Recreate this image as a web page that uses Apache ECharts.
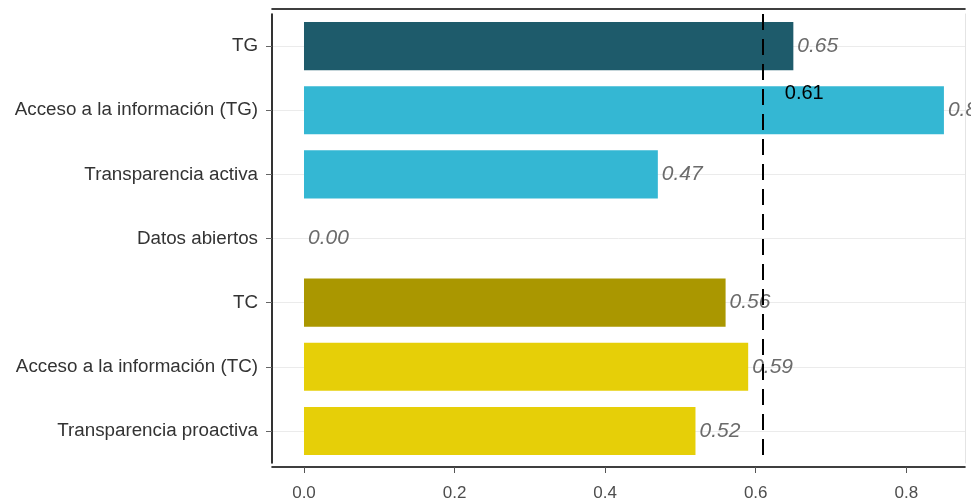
<!DOCTYPE html>
<html>
<head>
<meta charset="utf-8">
<script src="https://cdn.jsdelivr.net/npm/echarts@6/dist/echarts.min.js"></script>
<style>
html,body{margin:0;padding:0;background:#fff;}
#chart{width:971px;height:504px;}
</style>
</head>
<body>
<div id="chart"></div>
<script>
// ---- data ----
var categories = [
  'TG',
  'Acceso a la información (TG)',
  'Transparencia activa',
  'Datos abiertos',
  'TC',
  'Acceso a la información (TC)',
  'Transparencia proactiva'
];
var values = [0.65, 0.85, 0.47, 0.00, 0.56, 0.59, 0.52];
var groups = ['TG-total', 'TG', 'TG', 'TG', 'TC-total', 'TC', 'TC'];
var referenceValue = 0.606;
var xTicks = [0, 0.2, 0.4, 0.6, 0.8];

// ---- styles ----
var palette = {
  'TG-total': '#1e5b6b',
  'TG': '#34b7d3',
  'TC-total': '#aa9700',
  'TC': '#e6cf08'
};
var FONT = '"Liberation Sans", Arial, Helvetica, sans-serif';
var xMin = -0.0425, xMax = 0.878;

var chart = echarts.init(document.getElementById('chart'), null, {renderer: 'canvas'});

var barData = values.map(function (v, i) {
  return { value: v, itemStyle: { color: palette[groups[i]] } };
});

var option = {
  animation: false,
  backgroundColor: '#ffffff',
  grid: { left: 272, right: 6, top: 14, bottom: 41, containLabel: false },
  xAxis: [
    {
      type: 'value', position: 'bottom', min: xMin, max: xMax, offset: 4,
      axisLine: { show: true, onZero: false, lineStyle: { color: '#000', width: 1.6 } },
      axisTick: { show: true, customValues: xTicks, length: 6, lineStyle: { color: '#555' } },
      axisLabel: {
        customValues: xTicks, margin: 18, fontSize: 17, color: '#4d4d4d', fontFamily: FONT,
        formatter: function (v) { return Number(v).toFixed(1); }
      },
      splitLine: { show: false }
    },
    {
      type: 'value', position: 'top', min: xMin, max: xMax, offset: 5,
      axisLine: { show: true, onZero: false, lineStyle: { color: '#000', width: 1.6 } },
      axisTick: { show: false }, axisLabel: { show: false }, splitLine: { show: false }
    }
  ],
  yAxis: [
    {
      type: 'category', data: categories, inverse: true, position: 'left',
      axisLine: { show: true, onZero: false, lineStyle: { color: '#000', width: 1.6 } },
      axisTick: { show: true, alignWithLabel: true, length: 6, lineStyle: { color: '#666' } },
      axisLabel: { margin: 14, fontSize: 18.8, color: '#333', fontFamily: FONT },
      splitLine: { show: false }
    },
    {
      type: 'category', data: categories, inverse: true, position: 'right',
      axisLine: { show: true, onZero: false, lineStyle: { color: '#e4e4e4', width: 1 } },
      axisTick: { show: false }, axisLabel: { show: false }, splitLine: { show: false }
    }
  ],
  series: [
    {
      // horizontal grid lines at category centres (behind the bars)
      type: 'line', name: 'guides', data: [], z: 0, silent: true,
      markLine: {
        z: 0, silent: true, symbol: 'none', animation: false,
        lineStyle: { color: '#ebebeb', width: 1, type: 'solid' },
        label: { show: false },
        data: categories.map(function (c) { return { yAxis: c }; })
      }
    },
    {
      type: 'bar', name: 'valor', data: barData, barWidth: '75%', z: 3,
      label: {
        show: true, position: 'right', distance: 4,
        fontSize: 21, fontStyle: 'italic', color: '#6b6b6b', fontFamily: FONT,
        formatter: function (p) { return Number(p.value).toFixed(2); }
      }
    },
    {
      type: 'line', name: 'referencia', data: [], z: 6, silent: true,
      markLine: {
        z: 6, silent: true, symbol: 'none', animation: false,
        lineStyle: { color: '#000', width: 2, type: [16, 9] },
        label: {
          show: true, position: 'start', fontSize: 20, color: '#000', fontFamily: FONT,
          offset: [41, 94],
          formatter: function (p) { return Number(p.value).toFixed(2); }
        },
        data: [{ xAxis: referenceValue }]
      }
    }
  ]
};
chart.setOption(option);
</script>
</body>
</html>
